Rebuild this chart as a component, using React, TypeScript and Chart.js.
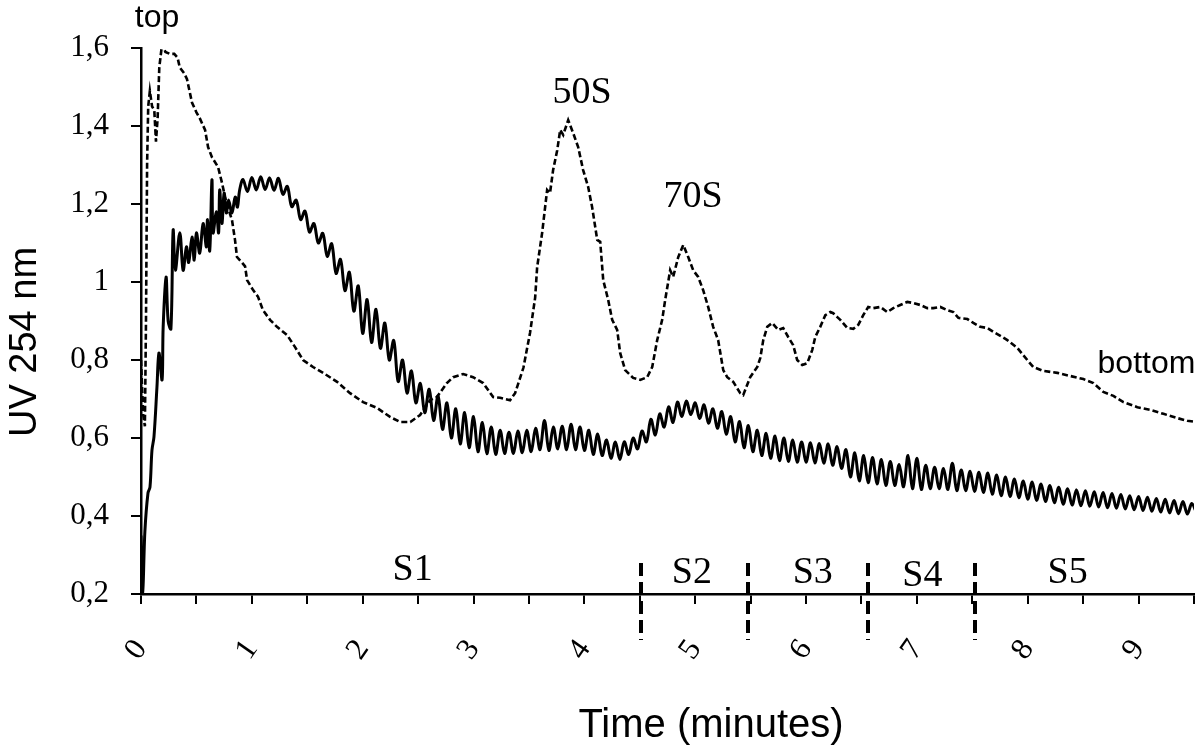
import React, { useEffect, useRef } from 'react';
import { Chart, registerables } from 'chart.js';

Chart.register(...registerables);

// ---- Data ----
const dashedTime = [
  0, 0.02, 0.035, 0.045, 0.055, 0.065, 0.08, 0.1, 0.12, 0.135,
  0.15, 0.165, 0.19, 0.22, 0.26, 0.3, 0.33, 0.35, 0.39, 0.415,
  0.46, 0.5, 0.53, 0.578, 0.605, 0.64, 0.695, 0.731, 0.758, 0.785,
  0.821, 0.848, 0.866, 0.911, 0.939, 0.957, 1.01, 1.056, 1.1, 1.164,
  1.227, 1.318, 1.39, 1.462, 1.552, 1.643, 1.769, 1.886, 2.004, 2.13,
  2.247, 2.338, 2.43, 2.518, 2.608, 2.67, 2.76, 2.816, 2.906, 2.996,
  3.087, 3.177, 3.24, 3.33, 3.375, 3.45, 3.51, 3.556, 3.574, 3.619,
  3.664, 3.69, 3.718, 3.755, 3.782, 3.809, 3.854, 3.899, 3.944, 3.989,
  4.034, 4.07, 4.116, 4.143, 4.17, 4.215, 4.251, 4.296, 4.323, 4.368,
  4.44, 4.504, 4.567, 4.612, 4.657, 4.702, 4.729, 4.774, 4.801, 4.847,
  4.892, 4.937, 4.982, 5.027, 5.072, 5.117, 5.162, 5.207, 5.253, 5.289,
  5.343, 5.406, 5.433, 5.496, 5.56, 5.587, 5.614, 5.65, 5.695, 5.749,
  5.794, 5.839, 5.884, 5.92, 5.966, 6.011, 6.056, 6.083, 6.128, 6.174,
  6.219, 6.245, 6.282, 6.309, 6.372, 6.426, 6.471, 6.516, 6.561, 6.606,
  6.67, 6.733, 6.787, 6.85, 6.913, 6.968, 7.031, 7.094, 7.148, 7.211,
  7.274, 7.329, 7.374, 7.455, 7.509, 7.572, 7.635, 7.69, 7.753, 7.816,
  7.906, 7.996, 8.05, 8.14, 8.267, 8.384, 8.502, 8.592, 8.682, 8.773,
  8.863, 8.989, 9.107, 9.224, 9.35, 9.44, 9.53,
];
const dashedUV = [
  0.8, 0.66, 0.63, 0.9, 1.3, 1.45, 1.49, 1.45, 1.44, 1.36,
  1.42, 1.55, 1.61, 1.59, 1.585, 1.585, 1.575, 1.55, 1.535, 1.52,
  1.46, 1.435, 1.42, 1.39, 1.346, 1.32, 1.295, 1.254, 1.218, 1.19,
  1.159, 1.108, 1.064, 1.05, 1.04, 1.005, 0.98, 0.962, 0.928, 0.903,
  0.885, 0.864, 0.833, 0.8, 0.782, 0.767, 0.744, 0.715, 0.692, 0.677,
  0.654, 0.641, 0.641, 0.659, 0.697, 0.705, 0.741, 0.756, 0.764, 0.756,
  0.741, 0.705, 0.703, 0.697, 0.715, 0.78, 0.87, 0.96, 1.038, 1.126,
  1.236, 1.228, 1.287, 1.338, 1.39, 1.377, 1.415, 1.382, 1.346, 1.287,
  1.244, 1.192, 1.108, 1.103, 1.005, 0.954, 0.903, 0.877, 0.818, 0.774,
  0.754, 0.749, 0.756, 0.782, 0.851, 0.903, 0.954, 1.03, 1.013, 1.064,
  1.095, 1.064, 1.03, 1.013, 0.979, 0.936, 0.885, 0.851, 0.774, 0.756,
  0.744, 0.715, 0.71, 0.756, 0.782, 0.805, 0.851, 0.885, 0.895, 0.877,
  0.882, 0.859, 0.838, 0.8, 0.787, 0.792, 0.826, 0.859, 0.885, 0.915,
  0.923, 0.92, 0.91, 0.903, 0.882, 0.88, 0.89, 0.915, 0.936, 0.933,
  0.936, 0.923, 0.933, 0.941, 0.949, 0.946, 0.941, 0.933, 0.933, 0.936,
  0.928, 0.923, 0.908, 0.905, 0.895, 0.885, 0.882, 0.872, 0.862, 0.851,
  0.831, 0.8, 0.782, 0.772, 0.767, 0.759, 0.751, 0.741, 0.718, 0.708,
  0.692, 0.679, 0.672, 0.662, 0.651, 0.644, 0.641,
];

const solidEarlyTime = [
  0, 0.015, 0.035, 0.063, 0.081, 0.099, 0.117, 0.144, 0.162, 0.19,
  0.2, 0.226, 0.245, 0.27, 0.29, 0.31, 0.35, 0.38, 0.41, 0.43,
  0.46, 0.48, 0.5, 0.53, 0.56, 0.59, 0.6, 0.62, 0.64, 0.65,
  0.68, 0.7, 0.71, 0.73, 0.75, 0.77, 0.79, 0.82, 0.85, 0.87,
  0.89,
];
const solidEarlyUV = [
  0.35, 0.2, 0.36, 0.459, 0.474, 0.569, 0.603, 0.731, 0.818, 0.749,
  0.885, 1.013, 0.9, 0.88, 1.133, 1.03, 1.126, 1.03, 1.09, 1.05,
  1.115, 1.056, 1.126, 1.074, 1.15, 1.09, 1.16, 1.08, 1.262, 1.126,
  1.18, 1.126, 1.236, 1.15, 1.228, 1.177, 1.21, 1.177, 1.218, 1.192,
  1.236,
];

// Sampled part of the solid trace (sampling grid: start + k * step minutes)
const RIPPLE_START = 0.92;
const RIPPLE_STEP = 0.04;
const solidRippleUV = [
  1.263, 1.232, 1.268, 1.236, 1.27, 1.237, 1.267, 1.235, 1.266, 1.225,
  1.245, 1.193, 1.21, 1.16, 1.182, 1.128, 1.15, 1.1, 1.125, 1.066,
  1.098, 1.022, 1.058, 0.978, 1.025, 0.925, 0.99, 0.868, 0.955, 0.845,
  0.93, 0.83, 0.895, 0.8, 0.85, 0.745, 0.8, 0.715, 0.772, 0.69,
  0.74, 0.665, 0.725, 0.645, 0.708, 0.622, 0.69, 0.6, 0.675, 0.585,
  0.665, 0.575, 0.655, 0.565, 0.64, 0.56, 0.628, 0.558, 0.62, 0.56,
  0.615, 0.56, 0.618, 0.562, 0.62, 0.565, 0.625, 0.57, 0.645, 0.568,
  0.628, 0.572, 0.63, 0.57, 0.635, 0.57, 0.628, 0.568, 0.62, 0.558,
  0.61, 0.555, 0.595, 0.548, 0.59, 0.545, 0.59, 0.558, 0.6, 0.572,
  0.618, 0.59, 0.648, 0.608, 0.662, 0.628, 0.68, 0.64, 0.692, 0.655,
  0.695, 0.66, 0.69, 0.65, 0.685, 0.638, 0.675, 0.625, 0.668, 0.61,
  0.655, 0.59, 0.642, 0.575, 0.632, 0.565, 0.62, 0.555, 0.612, 0.548,
  0.605, 0.542, 0.6, 0.54, 0.595, 0.538, 0.59, 0.538, 0.588, 0.536,
  0.586, 0.535, 0.585, 0.53, 0.578, 0.522, 0.57, 0.5, 0.562, 0.49,
  0.555, 0.485, 0.55, 0.482, 0.545, 0.478, 0.54, 0.478, 0.532, 0.475,
  0.555, 0.47, 0.548, 0.468, 0.53, 0.47, 0.525, 0.47, 0.522, 0.468,
  0.535, 0.465, 0.518, 0.465, 0.515, 0.463, 0.512, 0.46, 0.51, 0.456,
  0.505, 0.452, 0.5, 0.45, 0.495, 0.447, 0.49, 0.443, 0.487, 0.44,
  0.482, 0.437, 0.478, 0.434, 0.474, 0.43, 0.47, 0.428, 0.467, 0.426,
  0.465, 0.425, 0.462, 0.423, 0.46, 0.421, 0.458, 0.42, 0.455, 0.418,
  0.452, 0.416, 0.45, 0.414, 0.448, 0.412, 0.445, 0.41, 0.443, 0.408,
  0.44, 0.406, 0.437, 0.405, 0.432, 0.41,
];

// Annotations
const sectionBounds = [4.51, 5.48, 6.56, 7.52];
const sectionNames = ['S1', 'S2', 'S3', 'S4', 'S5'];
const sectionLabelTime = [2.45, 4.97, 6.06, 7.05, 8.36];
const sectionLabelUV = [0.236, 0.228, 0.228, 0.221, 0.228];
const peakNames = ['50S', '70S'];
const peakLabelTime = [3.98, 4.98];
const peakLabelUV = [1.459, 1.192];
const endNames = ['top', 'bottom'];
const endLabelTime = [0.145, 8.63];
const endLabelUV = [1.654, 0.767];

const X_MIN = 0;
const X_MAX = 9.5;
const Y_MIN = 0.2;
const Y_MAX = 1.6;

const SERIF = '"Liberation Serif", "Times New Roman", serif';
const SANS = '"Liberation Sans", Arial, sans-serif';

const annotationPlugin = {
  id: 'gradientAnnotations',
  afterDraw(chart: any) {
    const { ctx, chartArea } = chart;
    const x = chart.scales.x;
    const y = chart.scales.y;
    ctx.save();
    // section separators
    ctx.strokeStyle = '#000';
    ctx.lineWidth = 4;
    ctx.setLineDash([13, 6]);
    sectionBounds.forEach((t) => {
      const px = Math.round(x.getPixelForValue(t));
      ctx.beginPath();
      ctx.moveTo(px, chartArea.bottom - 31);
      ctx.lineTo(px, chartArea.bottom + 46);
      ctx.stroke();
    });
    ctx.setLineDash([]);
    ctx.fillStyle = '#000';
    ctx.textBaseline = 'alphabetic';
    // section labels
    ctx.font = `38px ${SERIF}`;
    ctx.textAlign = 'center';
    sectionNames.forEach((s, i) => {
      ctx.fillText(s, x.getPixelForValue(sectionLabelTime[i]), y.getPixelForValue(sectionLabelUV[i]));
    });
    peakNames.forEach((s, i) => {
      ctx.fillText(s, x.getPixelForValue(peakLabelTime[i]), y.getPixelForValue(peakLabelUV[i]));
    });
    // top / bottom
    ctx.font = `32px ${SANS}`;
    ctx.textAlign = 'center';
    ctx.fillText(endNames[0], x.getPixelForValue(endLabelTime[0]), y.getPixelForValue(endLabelUV[0]));
    ctx.textAlign = 'left';
    ctx.fillText(endNames[1], x.getPixelForValue(endLabelTime[1]), y.getPixelForValue(endLabelUV[1]));
    // axis titles
    ctx.font = `40px ${SANS}`;
    ctx.textAlign = 'center';
    ctx.fillText('Time (minutes)', 711, 737);
    ctx.save();
    ctx.translate(36, 342);
    ctx.rotate(-Math.PI / 2);
    ctx.font = `38px ${SANS}`;
    ctx.textAlign = 'center';
    ctx.fillText('UV 254 nm', 0, 0);
    ctx.restore();
    ctx.restore();
  },
};

export default function App() {
  const canvasRef = useRef<HTMLCanvasElement | null>(null);

  useEffect(() => {
    if (!canvasRef.current) return;
    const dashedPoints = dashedTime.map((t, i) => ({ x: t, y: dashedUV[i] }));
    const solidPoints = [
      ...solidEarlyTime.map((t, i) => ({ x: t, y: solidEarlyUV[i] })),
      ...solidRippleUV.map((v, k) => ({ x: RIPPLE_START + k * RIPPLE_STEP, y: v })),
    ];

    const chart = new Chart(canvasRef.current, {
      type: 'line',
      data: {
        datasets: [
          {
            label: 'dashed',
            data: dashedPoints,
            borderColor: '#000',
            borderWidth: 2.6,
            borderDash: [6, 3],
            pointRadius: 0,
            tension: 0,
            fill: false,
          },
          {
            label: 'solid',
            data: solidPoints,
            borderColor: '#000',
            borderWidth: 3,
            pointRadius: 0,
            tension: 0.35,
            fill: false,
          },
        ],
      },
      options: {
        animation: false,
        responsive: false,
        devicePixelRatio: 1,
        layout: { padding: { left: 0, right: 6, top: 48, bottom: 0 } },
        plugins: {
          legend: { display: false },
          tooltip: { enabled: false },
          title: { display: false },
        },
        scales: {
          x: {
            type: 'linear',
            min: X_MIN,
            max: X_MAX,
            afterFit: (scale: any) => {
              scale.height = 151;
              scale.paddingLeft = 0;
              scale.paddingRight = 0;
            },
            border: { display: true, color: '#000', width: 2.5 },
            grid: {
              drawOnChartArea: false,
              drawTicks: true,
              tickLength: 10,
              color: '#000',
              lineWidth: 2,
            },
            ticks: {
              stepSize: 0.5,
              autoSkip: false,
              minRotation: 55,
              maxRotation: 55,
              padding: 29,
              color: '#000',
              font: { family: SERIF, size: 31 },
              callback: (v: any) => {
                const n = Number(v);
                return Math.abs(n - Math.round(n)) < 1e-6 ? String(Math.round(n)) : '';
              },
            },
          },
          y: {
            type: 'linear',
            min: Y_MIN,
            max: Y_MAX,
            afterFit: (scale: any) => {
              scale.width = 141;
              scale.paddingTop = 0;
              scale.paddingBottom = 0;
            },
            border: { display: true, color: '#000', width: 2.5 },
            grid: {
              drawOnChartArea: false,
              drawTicks: true,
              tickLength: 10,
              color: '#000',
              lineWidth: 2,
            },
            ticks: {
              stepSize: 0.2,
              padding: 22,
              color: '#000',
              font: { family: SERIF, size: 31 },
              callback: (v: any) => {
                const n = Math.round(Number(v) * 10) / 10;
                return String(n).replace('.', ',');
              },
            },
          },
        },
      },
      plugins: [annotationPlugin],
    });

    return () => chart.destroy();
  }, []);

  return (
    <div style={{ position: 'absolute', left: 0, top: 0, width: 1200, height: 745, background: '#fff' }}>
      <canvas ref={canvasRef} width={1200} height={745} style={{ display: 'block' }} />
    </div>
  );
}
